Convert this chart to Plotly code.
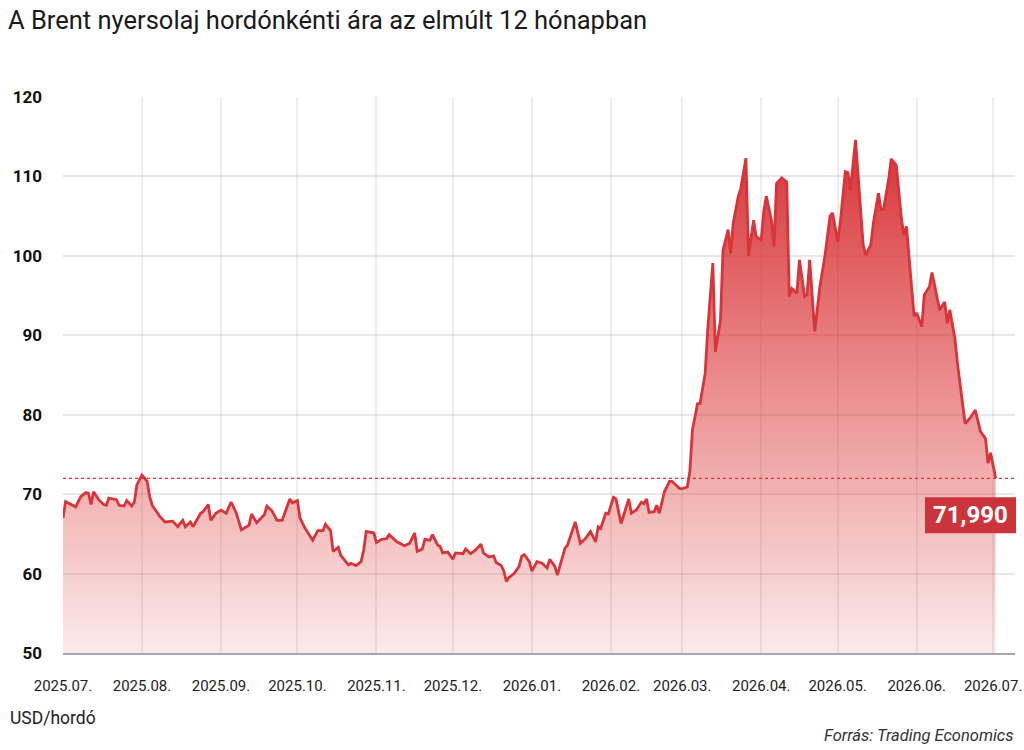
import plotly.graph_objects as go

title_text = "A Brent nyersolaj hordónkénti ára az elmúlt 12 hónapban"
unit_text = "USD/hordó"
source_text = "Forrás: Trading Economics"

dates = [
    "2025-07-01", "2025-07-02", "2025-07-06", "2025-07-08", "2025-07-10", "2025-07-11", "2025-07-12", "2025-07-13",
    "2025-07-15", "2025-07-17", "2025-07-18", "2025-07-19", "2025-07-22", "2025-07-23", "2025-07-25", "2025-07-26",
    "2025-07-28", "2025-07-29", "2025-07-30", "2025-08-01", "2025-08-03", "2025-08-04", "2025-08-05", "2025-08-08",
    "2025-08-10", "2025-08-13", "2025-08-15", "2025-08-17", "2025-08-18", "2025-08-20", "2025-08-21", "2025-08-24",
    "2025-08-25", "2025-08-27", "2025-08-28", "2025-08-30", "2025-09-01", "2025-09-03", "2025-09-05", "2025-09-07",
    "2025-09-09", "2025-09-12", "2025-09-13", "2025-09-15", "2025-09-18", "2025-09-19", "2025-09-21", "2025-09-23",
    "2025-09-25", "2025-09-26", "2025-09-28", "2025-09-29", "2025-10-01", "2025-10-02", "2025-10-04", "2025-10-07",
    "2025-10-09", "2025-10-11", "2025-10-12", "2025-10-14", "2025-10-15", "2025-10-17", "2025-10-18", "2025-10-21",
    "2025-10-22", "2025-10-24", "2025-10-26", "2025-10-27", "2025-10-28", "2025-10-31", "2025-11-01", "2025-11-03",
    "2025-11-05", "2025-11-06", "2025-11-09", "2025-11-12", "2025-11-14", "2025-11-16", "2025-11-17", "2025-11-19",
    "2025-11-20", "2025-11-22", "2025-11-23", "2025-11-25", "2025-11-26", "2025-11-27", "2025-11-29", "2025-12-01",
    "2025-12-02", "2025-12-05", "2025-12-06", "2025-12-08", "2025-12-10", "2025-12-12", "2025-12-13", "2025-12-15",
    "2025-12-17", "2025-12-18", "2025-12-20", "2025-12-21", "2025-12-22", "2025-12-23", "2025-12-25", "2025-12-27",
    "2025-12-28", "2025-12-29", "2025-12-31", "2026-01-01", "2026-01-03", "2026-01-05", "2026-01-07", "2026-01-08",
    "2026-01-10", "2026-01-11", "2026-01-13", "2026-01-14", "2026-01-15", "2026-01-18", "2026-01-20", "2026-01-22",
    "2026-01-24", "2026-01-26", "2026-01-27", "2026-01-28", "2026-01-30", "2026-01-31", "2026-02-02", "2026-02-03",
    "2026-02-05", "2026-02-06", "2026-02-08", "2026-02-09", "2026-02-11", "2026-02-13", "2026-02-14", "2026-02-15",
    "2026-02-16", "2026-02-18", "2026-02-19", "2026-02-20", "2026-02-22", "2026-02-24", "2026-02-25", "2026-02-26",
    "2026-02-28", "2026-03-01", "2026-03-03", "2026-03-04", "2026-03-05", "2026-03-07", "2026-03-08", "2026-03-10",
    "2026-03-11", "2026-03-13", "2026-03-14", "2026-03-16", "2026-03-17", "2026-03-19", "2026-03-20", "2026-03-21",
    "2026-03-23", "2026-03-24", "2026-03-26", "2026-03-27", "2026-03-29", "2026-03-30", "2026-04-01", "2026-04-02",
    "2026-04-03", "2026-04-05", "2026-04-06", "2026-04-07", "2026-04-09", "2026-04-11", "2026-04-12", "2026-04-13",
    "2026-04-15", "2026-04-16", "2026-04-18", "2026-04-19", "2026-04-20", "2026-04-22", "2026-04-24", "2026-04-26",
    "2026-04-28", "2026-04-29", "2026-05-01", "2026-05-02", "2026-05-04", "2026-05-05", "2026-05-06", "2026-05-08",
    "2026-05-09", "2026-05-11", "2026-05-12", "2026-05-14", "2026-05-15", "2026-05-17", "2026-05-18", "2026-05-19",
    "2026-05-21", "2026-05-22", "2026-05-24", "2026-05-26", "2026-05-27", "2026-05-28", "2026-05-30", "2026-05-31",
    "2026-06-01", "2026-06-03", "2026-06-04", "2026-06-06", "2026-06-07", "2026-06-09", "2026-06-10", "2026-06-12",
    "2026-06-13", "2026-06-14", "2026-06-16", "2026-06-17", "2026-06-20", "2026-06-22", "2026-06-24", "2026-06-26",
    "2026-06-28", "2026-06-29", "2026-06-30", "2026-07-02",
]

prices = [
    67.0, 69.05, 68.4, 69.7, 70.2, 70.1, 68.7, 70.3,
    69.3, 68.7, 68.6, 69.5, 69.3, 68.6, 68.5, 69.2,
    68.5, 69.0, 71.2, 72.4, 71.6, 69.7, 68.6, 67.2,
    66.5, 66.6, 65.9, 66.7, 65.9, 66.5, 65.9, 67.6,
    67.8, 68.7, 66.7, 67.6, 68.0, 67.6, 69.0, 67.6,
    65.5, 66.1, 67.5, 66.4, 67.4, 68.5, 67.9, 66.7,
    66.7, 67.6, 69.4, 68.9, 69.2, 67.0, 65.7, 64.2,
    65.4, 65.4, 66.2, 65.4, 62.8, 63.3, 62.3, 61.1,
    61.3, 61.0, 61.5, 63.0, 65.3, 65.1, 63.9, 64.3,
    64.4, 64.9, 64.0, 63.5, 63.8, 65.1, 62.8, 63.1,
    64.3, 64.2, 64.9, 63.6, 63.4, 62.6, 62.7, 61.8,
    62.6, 62.5, 63.1, 62.5, 63.0, 63.7, 62.6, 62.1,
    62.2, 61.4, 61.0, 60.3, 59.0, 59.5, 60.0, 60.9,
    62.2, 62.4, 61.5, 60.3, 61.5, 61.3, 60.7, 61.8,
    60.9, 59.8, 61.9, 63.2, 63.6, 66.5, 63.8, 64.4,
    65.3, 64.0, 65.9, 65.7, 67.6, 67.5, 69.6, 69.4,
    66.3, 67.4, 69.4, 67.6, 68.0, 69.0, 68.8, 69.4,
    67.7, 67.8, 68.6, 67.6, 70.3, 71.6, 71.6, 71.3,
    70.7, 70.7, 70.9, 72.9, 78.1, 81.4, 81.4, 85.2,
    90.7, 99.1, 87.9, 91.9, 100.7, 103.3, 100.3, 104.1,
    107.5, 108.5, 112.3, 100.0, 104.5, 102.4, 102.0, 105.6,
    107.5, 104.5, 101.2, 109.1, 109.8, 109.3, 94.9, 95.9,
    95.3, 99.5, 94.9, 95.1, 99.5, 90.5, 96.1, 100.0,
    105.0, 105.4, 101.8, 104.1, 110.6, 110.5, 108.3, 114.6,
    110.4, 101.4, 100.1, 101.4, 104.1, 107.9, 105.8, 105.9,
    109.6, 112.2, 111.4, 104.7, 102.6, 103.7, 96.1, 92.4,
    92.8, 91.1, 95.1, 96.1, 97.9, 94.7, 93.2, 94.2,
    91.5, 93.2, 89.6, 86.5, 78.9, 79.6, 80.6, 77.9,
    77.0, 73.9, 75.2, 71.99,
]

y_ticks = [50, 60, 70, 80, 90, 100, 110, 120]

line_color = "#d8343a"
last_value = prices[-1]
last_label = f"{last_value:.3f}".replace(".", ",")

fig = go.Figure()
fig.add_trace(go.Scatter(
    x=dates, y=prices, mode="lines",
    line=dict(color=line_color, width=2.8),
    fill="tozeroy",
    fillgradient=dict(
        type="vertical",
        start=50, stop=115,
        colorscale=[[0, "rgba(220,50,50,0.10)"], [0.3, "rgba(220,50,50,0.36)"], [1, "rgba(214,44,48,0.97)"]],
    ),
    hoverinfo="skip", showlegend=False,
))

# dotted reference line at last value
fig.add_shape(type="line", xref="paper", x0=0, x1=1, yref="y", y0=last_value, y1=last_value,
              line=dict(color=line_color, width=1.2, dash="dot"))

# last value label box
fig.add_shape(type="rect", xref="paper", xsizemode="pixel", xanchor=1, x0=-90, x1=1,
              yref="y", ysizemode="pixel", yanchor=last_value, y0=-19, y1=-55,
              fillcolor="#cc343c", line=dict(width=0), layer="above")
fig.add_annotation(xref="paper", x=1, xshift=-44.5, xanchor="center",
                   yref="y", y=last_value, yshift=-37, yanchor="middle",
                   text=last_label, showarrow=False,
                   font=dict(family="Roboto", size=24, color="white", weight="bold"))

fig.add_annotation(xref="paper", yref="paper", x=(8 - 63) / 952, y=-(718 - 653) / 556,
                   xanchor="left", yanchor="middle", text=unit_text, showarrow=False,
                   font=dict(family="Roboto", size=17.5, color="#222"))
fig.add_annotation(xref="paper", yref="paper", x=(1016 - 63) / 952, y=-(735 - 653) / 556,
                   xanchor="right", yanchor="middle", text=f"<i>{source_text}</i>", showarrow=False,
                   font=dict(family="Roboto", size=16.5, color="#333"))

fig.update_layout(
    width=1024, height=750,
    margin=dict(l=63, r=9, t=97, b=97, autoexpand=False),
    paper_bgcolor="white", plot_bgcolor="white",
    showlegend=False,
    title=dict(text=title_text, x=8 / 1024, xanchor="left", xref="container",
               y=1 - 20 / 750, yanchor="middle", yref="container",
               font=dict(family="Roboto", size=25.5, color="#1a1a1a")),
    xaxis=dict(
        type="date", range=["2025-07-01", "2026-07-09 14:00"],
        tick0="2025-07-01", dtick="M1", tickformat="%Y.%m.",
        showgrid=True, gridcolor="rgba(0,0,0,0.07)", gridwidth=1.5,
        showline=True, linecolor="#a8a8a8", linewidth=2,
        ticks="", ticklabelstandoff=18, automargin=False,
        tickfont=dict(family="Roboto", size=15, color="#222"),
        zeroline=False,
    ),
    yaxis=dict(
        range=[50, 120], tickvals=y_ticks,
        showgrid=True, gridcolor="rgba(0,0,0,0.09)", gridwidth=1.5,
        zeroline=False, showline=False, ticks="", ticklabelstandoff=20, automargin=False,
        tickfont=dict(family="Roboto", size=17, color="#111", weight="bold"),
    ),
)

fig.write_html("out.html")
